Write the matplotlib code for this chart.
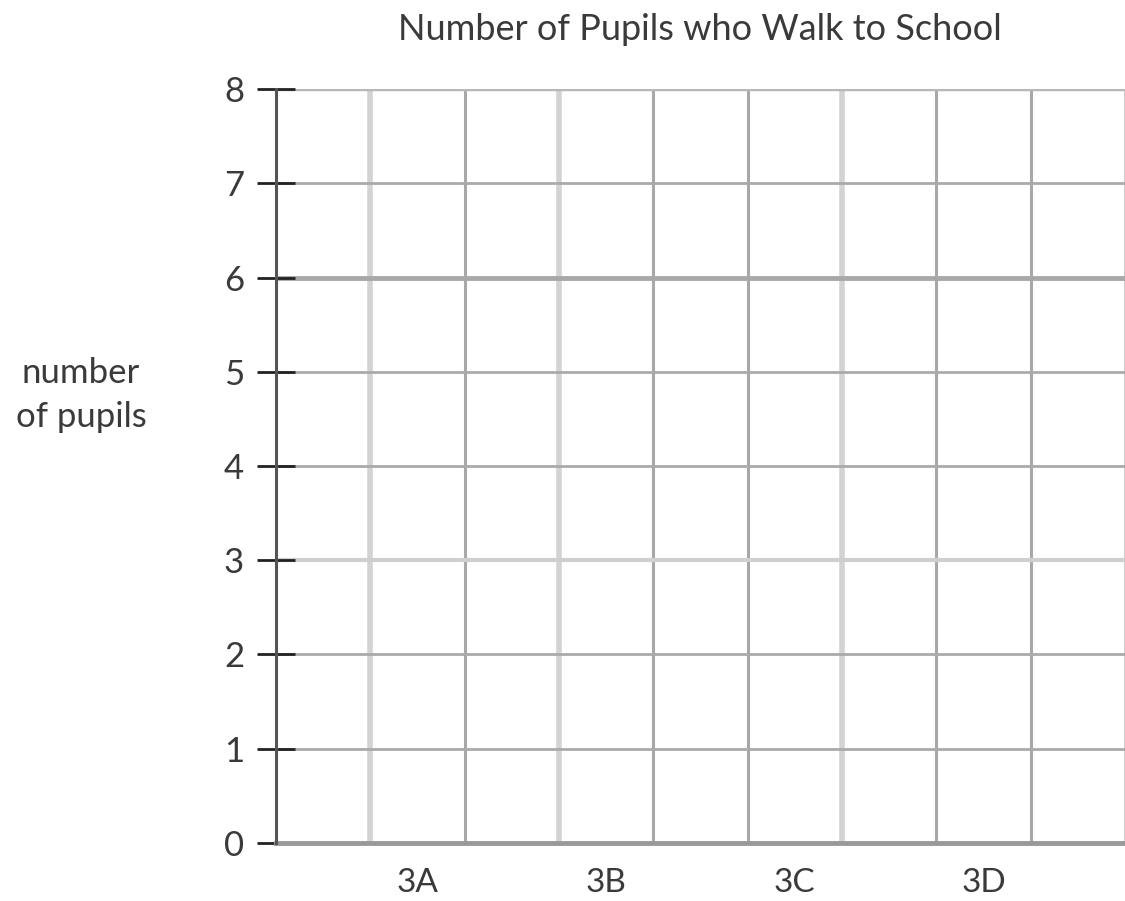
import matplotlib.pyplot as plt

# blank bar chart template - pupils still to be filled in
classes = ['3A', '3B', '3C', '3D']
class_pos = [1.5, 3.5, 5.5, 7.5]
y_ticks = [0, 1, 2, 3, 4, 5, 6, 7, 8]
grid_cols = [1, 2, 3, 4, 5, 6, 7, 8, 9]
light_cols = [1, 3, 6]

plt.rcParams['font.family'] = ['Lato', 'DejaVu Sans']

fig = plt.figure(figsize=(11.25, 9.01), dpi=100)
ax = fig.add_axes([0.2453, 0.0644, 0.7547, 0.8368])
ax.set_xlim(0, 9)
ax.set_ylim(0, 8)

# vertical grid
for c in grid_cols:
    if c in light_cols:
        ax.axvline(c, color='#d3d3d3', lw=4, zorder=1)
    elif c == 9:
        ax.axvline(c, color='#c8c8c8', lw=2, zorder=1)
    else:
        ax.axvline(c, color='#a8a8a8', lw=2.2, zorder=1)

# horizontal grid
for y in y_ticks[1:]:
    if y == 3:
        ax.axhline(y, color='#cfcfcf', lw=3, zorder=1)
    elif y == 6:
        ax.axhline(y, color='#a8a8a8', lw=3.5, zorder=1)
    elif y == 8:
        ax.axhline(y, color='#b8b8b8', lw=2.5, zorder=1)
    else:
        ax.axhline(y, color='#aaaaaa', lw=2, zorder=1)

for s in ['top', 'right']:
    ax.spines[s].set_visible(False)
ax.spines['left'].set_color('#555555')
ax.spines['left'].set_linewidth(2.2)
ax.spines['bottom'].set_color('#999999')
ax.spines['bottom'].set_linewidth(3.5)
ax.spines['left'].set_zorder(3)

ax.set_yticks(y_ticks)
ax.set_yticklabels([str(v) for v in y_ticks], fontsize=25, color='#3a3a3a')
ax.tick_params(axis='y', direction='inout', length=28, width=2, color='#222222', pad=9)

ax.set_xticks(class_pos)
ax.set_xticklabels(classes, fontsize=24, color='#3a3a3a')
ax.tick_params(axis='x', length=0, pad=18)

fig.text(0.072, 0.5616, 'number\nof pupils', ha='center', va='center',
         fontsize=25, color='#3a3a3a', linespacing=1.45)
fig.text(0.6222, 0.967, 'Number of Pupils who Walk to School', ha='center', va='center',
         fontsize=26, color='#3a3a3a')

plt.savefig('out.png', dpi=100)
